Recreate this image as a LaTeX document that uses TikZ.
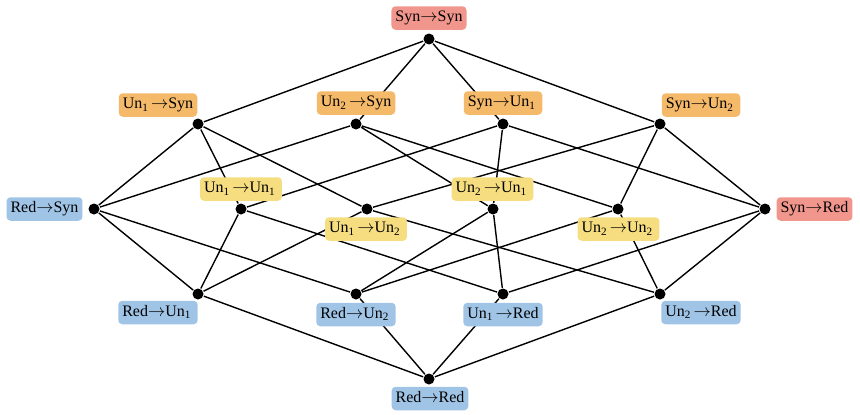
\documentclass[tikz,border=0pt]{standalone}
\usepackage{fontspec}
\setmainfont{Liberation Serif}
\usetikzlibrary{positioning}

\definecolor{redfill}{RGB}{241,150,140}
\definecolor{orgfill}{RGB}{244,185,105}
\definecolor{yelfill}{RGB}{245,221,128}
\definecolor{bluefill}{RGB}{160,196,230}

\newcommand{\rarr}{$\rightarrow$}
\newcommand{\un}[1]{Un\textsubscript{#1}\,}

\tikzset{
  dot/.style={circle,fill=black,minimum size=11pt,inner sep=0pt},
  lbl/.style={rounded corners=4pt,inner xsep=4pt,inner ysep=4.5pt,
    text height=11pt,text depth=3.5pt,font=\fontsize{16}{18}\selectfont},
  redlbl/.style={lbl,fill=redfill},
  orglbl/.style={lbl,fill=orgfill},
  yellbl/.style={lbl,fill=yelfill},
  bluelbl/.style={lbl,fill=bluefill}
}

\begin{document}
\begin{tikzpicture}[x=1pt,y=-1pt,line width=1.4pt]
\useasboundingbox (0,0) rectangle (860,415);
% points of the lattice
\node[dot] (ss) at (429,39) {};
\node[dot] (b1) at (198,124) {};
\node[dot] (b2) at (356,124) {};
\node[dot] (b3) at (503,124) {};
\node[dot] (b4) at (660,124) {};
\node[dot] (c1) at (94,209) {};
\node[dot] (c2) at (241,209) {};
\node[dot] (c3) at (367,209) {};
\node[dot] (c4) at (493,209) {};
\node[dot] (c5) at (618,209) {};
\node[dot] (c6) at (765,209) {};
\node[dot] (d1) at (198,294) {};
\node[dot] (d2) at (356,294) {};
\node[dot] (d3) at (503,294) {};
\node[dot] (d4) at (660,294) {};
\node[dot] (rr) at (429,379) {};
% edges
\draw (ss) -- (b1) (ss) -- (b2) (ss) -- (b3) (ss) -- (b4);
\draw (b1) -- (c1) (b1) -- (c2) (b1) -- (c3);
\draw (b2) -- (c1) (b2) -- (c4) (b2) -- (c5);
\draw (b3) -- (c2) (b3) -- (c4) (b3) -- (c6);
\draw (b4) -- (c3) (b4) -- (c5) (b4) -- (c6);
\draw (c1) -- (d1) (c1) -- (d2);
\draw (c2) -- (d1) (c2) -- (d3);
\draw (c3) -- (d1) (c3) -- (d4);
\draw (c4) -- (d2) (c4) -- (d3);
\draw (c5) -- (d2) (c5) -- (d4);
\draw (c6) -- (d3) (c6) -- (d4);
\draw (d1) -- (rr) (d2) -- (rr) (d3) -- (rr) (d4) -- (rr);
% labels
\node[redlbl] (lss) at (429,18) {Syn\rarr Syn};
\node[orglbl] (lb1) at (158,105) {\un1\rarr Syn};
\node[orglbl] (lb2) at (356,103) {\un2\rarr Syn};
\node[orglbl] (lb3) at (503,103) {Syn\rarr\un1};
\node[orglbl] (lb4) at (701,105) {Syn\rarr\un2};
\node[bluelbl] (lc1) at (44.5,209) {Red\rarr Syn};
\node[yellbl] (lc2) at (241,189) {\un1\rarr\un1};
\node[yellbl] (lc3) at (366,229) {\un1\rarr\un2};
\node[yellbl] (lc4) at (492.5,189) {\un2\rarr\un1};
\node[yellbl] (lc5) at (618.5,229) {\un2\rarr\un2};
\node[redlbl] (lc6) at (814.5,209) {Syn\rarr Red};
\node[bluelbl] (ld1) at (158,312.5) {Red\rarr\un1};
\node[bluelbl] (ld2) at (356,314.5) {Red\rarr\un2};
\node[bluelbl] (ld3) at (503,314.5) {\un1\rarr Red};
\node[bluelbl] (ld4) at (701,312.5) {\un2\rarr Red};
\node[bluelbl] (lrr) at (430,398.5) {Red\rarr Red};
\end{tikzpicture}
\end{document}
